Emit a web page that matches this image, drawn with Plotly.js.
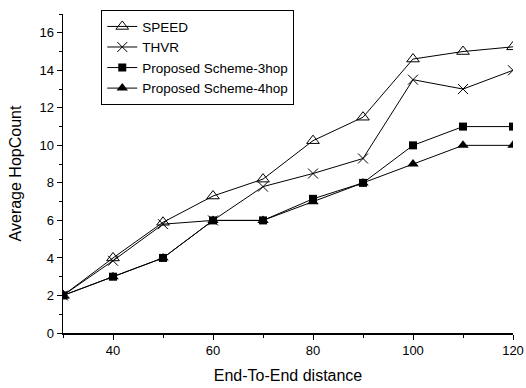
<!DOCTYPE html>
<html><head><meta charset="utf-8">
<script src="https://cdn.plot.ly/plotly-3.0.1.min.js"></script>
<style>html,body{margin:0;padding:0;background:#fff}#chart{width:526px;height:388px}</style>
</head><body><div id="chart"></div>
<script>
const distance = [30, 40, 50, 60, 70, 80, 90, 100, 110, 120];
const speed = [2, 4, 5.9, 7.3, 8.2, 10.25, 11.5, 14.6, 15, 15.25];
const thvr = [2, 3.85, 5.8, 6, 7.8, 8.5, 9.3, 13.5, 13, 14];
const scheme3hop = [2, 3, 4, 6, 6, 7.15, 8, 10, 11, 11];
const scheme4hop = [2, 3, 4, 6, 6, 7, 8, 9, 10, 10];
const names = ["SPEED", "THVR", "Proposed Scheme-3hop", "Proposed Scheme-4hop"];

const line = {color: '#000', width: 1};
const traces = [
  {x: distance, y: speed, name: names[0], mode: 'lines+markers', line: line,
   marker: {symbol: 'triangle-up-open', size: 11, color: '#000', line: {width: 1, color: '#000'}}},
  {x: distance, y: thvr, name: names[1], mode: 'lines+markers', line: line,
   marker: {symbol: 'x-thin-open', size: 10, color: '#000', line: {width: 1, color: '#000'}}},
  {x: distance, y: scheme3hop, name: names[2], mode: 'lines+markers', line: line,
   marker: {symbol: 'square', size: 8, color: '#000'}},
  {x: distance, y: scheme4hop, name: names[3], mode: 'lines+markers', line: line,
   marker: {symbol: 'triangle-up', size: 10, color: '#000'}}
];

const fam = "'Liberation Sans', Arial, sans-serif";
const layout = {
  width: 526, height: 388,
  margin: {l: 63, r: 13, t: 10, b: 55},
  paper_bgcolor: '#fff', plot_bgcolor: '#fff',
  font: {family: fam, size: 13, color: '#000'},
  showlegend: true,
  legend: {x: 0.085, y: 1.012, xanchor: 'left', yanchor: 'top',
    bordercolor: '#000', borderwidth: 1, bgcolor: '#fff',
    font: {family: fam, size: 13.5, color: '#000'},
    tracegroupgap: 0, itemwidth: 30},
  xaxis: {
    range: [30, 120], tick0: 0, dtick: 20, ticks: 'outside', ticklen: 5, tickwidth: 1,
    tickcolor: '#000', showline: true, linecolor: '#000', linewidth: 1.5,
    showgrid: false, zeroline: false, mirror: false,
    minor: {dtick: 10, tick0: 0, ticks: 'outside', ticklen: 3, tickcolor: '#000', showgrid: false},
    title: {text: 'End-To-End distance', font: {family: fam, size: 16, color: '#000'}, standoff: 12},
    tickfont: {family: fam, size: 13, color: '#000'}
  },
  yaxis: {
    range: [0, 17], tick0: 0, dtick: 2, ticks: 'outside', ticklen: 5, tickwidth: 1,
    tickcolor: '#000', showline: true, linecolor: '#000', linewidth: 1.5,
    showgrid: false, zeroline: false, mirror: false,
    minor: {dtick: 1, tick0: 0, ticks: 'outside', ticklen: 3, tickcolor: '#000', showgrid: false},
    title: {text: 'Average HopCount', font: {family: fam, size: 16, color: '#000'}, standoff: 14},
    tickfont: {family: fam, size: 13, color: '#000'}
  }
};
Plotly.newPlot('chart', traces, layout, {displayModeBar: false, staticPlot: true});
</script>
</body></html>
